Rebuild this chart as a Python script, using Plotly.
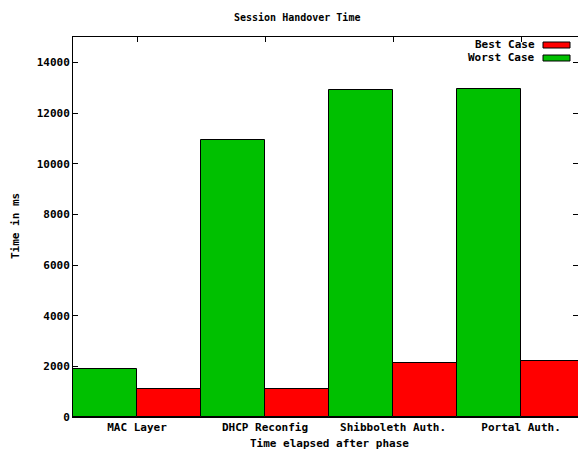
import plotly.graph_objects as go

categories = ["MAC Layer", "DHCP Reconfig", "Shibboleth Auth.", "Portal Auth."]
worst_case = [1900, 10950, 12900, 12950]
best_case = [1100, 1100, 2150, 2200]
y_ticks = [0, 2000, 4000, 6000, 8000, 10000, 12000, 14000]

FONT = "DejaVu Sans Mono"
GREEN = "#00c000"
RED = "#ff0000"
FS = 11

fig = go.Figure()
fig.add_trace(go.Bar(x=categories, y=worst_case, name="Worst Case",
                     marker=dict(color=GREEN, line=dict(color="black", width=1))))
fig.add_trace(go.Bar(x=categories, y=best_case, name="Best Case",
                     marker=dict(color=RED, line=dict(color="black", width=1))))

L, T, W, H = 73, 37, 578, 452
PW, PH = W - L, 417 - T

def px(x):
    return (x - L) / PW

def py(y):
    return (417 - y) / PH

fig.update_layout(
    width=W, height=H,
    margin=dict(l=L, r=0, t=T, b=H - 417, autoexpand=False),
    paper_bgcolor="white", plot_bgcolor="white",
    barmode="group", bargap=0, bargroupgap=0,
    showlegend=False,
    font=dict(family=FONT, size=FS, color="black", weight="bold"),
    xaxis=dict(type="category", categoryorder="array", categoryarray=categories,
               range=[-0.5, 3.445], showline=True, linecolor="black", linewidth=1,
               mirror="ticks", ticks="inside", ticklen=5, tickcolor="black",
               layer="below traces", showgrid=False, zeroline=False,
               tickfont=dict(family=FONT, size=FS, color="black", weight="bold")),
    yaxis=dict(range=[0, 15000], tickvals=y_ticks, tickformat="d", showline=True,
               linecolor="black", linewidth=1, mirror="ticks", ticks="inside",
               ticklen=5, tickcolor="black", layer="below traces", showgrid=False,
               zeroline=False,
               tickfont=dict(family=FONT, size=FS, color="black", weight="bold")),
)

anns = [
    dict(text="Session Handover Time", x=px(297), y=py(18), size=10),
    dict(text="Time elapsed after phase", x=px(329), y=py(444)),
    dict(text="Time in ms", x=px(15), y=py(226), textangle=-90),
    dict(text="Best Case", x=px(537), y=py(45), xanchor="right"),
    dict(text="Worst Case", x=px(537), y=py(58), xanchor="right"),
]
for a in anns:
    a.setdefault("xanchor", "center")
    size = a.pop("size", FS)
    fig.add_annotation(xref="paper", yref="paper", yanchor="middle", showarrow=False,
                       font=dict(family=FONT, size=size, color="black", weight="bold"), **a)

for yc, col in [(45, RED), (58, GREEN)]:
    fig.add_shape(type="rect", xref="paper", yref="paper",
                  x0=px(543), x1=px(570), y0=py(yc - 3), y1=py(yc + 3),
                  fillcolor=col, line=dict(color="black", width=1))

fig.write_html("out.html", config={"displayModeBar": False},
               post_script="document.body.style.margin='0';document.body.style.overflow='hidden';")
